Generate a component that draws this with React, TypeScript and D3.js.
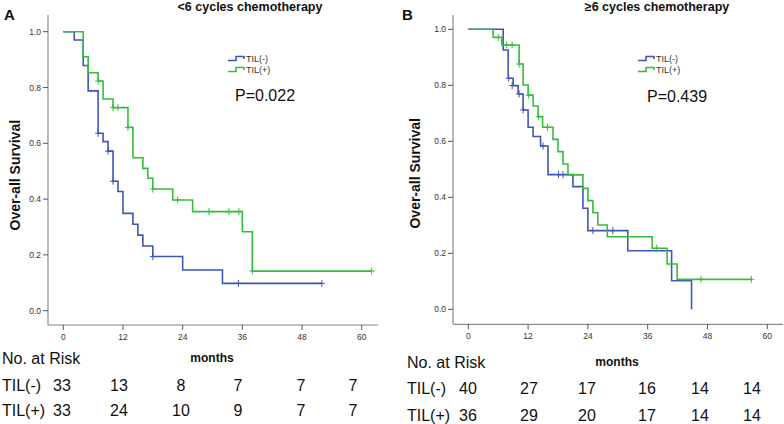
import React from "react";
import * as d3 from "d3";

// ---------- DATA ----------
const xTicks = [0, 12, 24, 36, 48, 60];
const yTicks = [0, 0.2, 0.4, 0.6, 0.8, 1.0];
const groups = ["TIL(-)", "TIL(+)"];

const titleA = "<6 cycles chemotherapy";
const titleB = "≥6 cycles chemotherapy";
const pA = "P=0.022";
const pB = "P=0.439";

// [time, survival] step points
const aNegSteps: [number, number][] = [
  [0, 1], [2.2, 0.970], [4, 0.879], [5, 0.788], [7, 0.636], [8, 0.606], [9, 0.572],
  [10, 0.464], [11, 0.427], [12, 0.349], [14, 0.310], [15, 0.271], [16, 0.232],
  [18, 0.194], [24, 0.146], [32, 0.098], [52, 0.098],
];
const aNegCensor: [number, number][] = [
  [7, 0.636], [9, 0.572], [10, 0.464], [18, 0.194], [35.2, 0.098], [52, 0.098],
];
const aPosSteps: [number, number][] = [
  [0, 1], [4, 0.910], [5, 0.853], [7, 0.823], [8, 0.759], [10, 0.728], [13, 0.657],
  [14, 0.548], [16, 0.510], [17, 0.475], [18, 0.436], [22, 0.397], [26, 0.355],
  [36, 0.283], [38, 0.142], [62, 0.142],
];
const aPosCensor: [number, number][] = [
  [7, 0.823], [10, 0.728], [11, 0.728], [13, 0.657], [18, 0.436], [23, 0.397],
  [29.3, 0.355], [33.3, 0.355], [35.3, 0.355], [38, 0.142], [62, 0.142],
];

const bNegSteps: [number, number][] = [
  [0, 1], [7, 0.926], [8, 0.825], [9, 0.799], [10, 0.769], [11, 0.712], [12, 0.650],
  [13, 0.617], [14.5, 0.583], [16, 0.481], [21, 0.438], [23, 0.361], [24, 0.281],
  [32, 0.209], [40.8, 0.102], [44.8, 0.0],
];
const bNegCensor: [number, number][] = [
  [8.1, 0.825], [8.8, 0.799], [10.2, 0.769], [11, 0.712], [15, 0.583],
  [18.1, 0.481], [19, 0.481], [25, 0.281], [29, 0.281],
];
const bPosSteps: [number, number][] = [
  [0, 1], [5, 0.971], [6.7, 0.944], [10.2, 0.876], [11, 0.801], [12, 0.765],
  [13, 0.726], [14, 0.688], [14.9, 0.650], [17, 0.607], [18, 0.563], [19, 0.519],
  [20, 0.480], [23, 0.432], [24, 0.388], [25, 0.345], [26, 0.301], [27.9, 0.259],
  [36.9, 0.218], [39.9, 0.162], [41.9, 0.107], [56.8, 0.107],
];
const bPosCensor: [number, number][] = [
  [6, 0.971], [7.7, 0.944], [8.8, 0.944], [10.2, 0.876], [12.1, 0.765],
  [14.1, 0.688], [15.9, 0.650], [37.8, 0.218], [46.7, 0.107], [56.8, 0.107],
];

const riskANeg = [33, 13, 8, 7, 7, 7];
const riskAPos = [33, 24, 10, 9, 7, 7];
const riskBNeg = [40, 27, 17, 16, 14, 14];
const riskBPos = [36, 29, 20, 17, 14, 14];

// ---------- STYLE ----------
const BLUE = "#3f56b5";
const GREEN = "#35bd3a";
const AXIS = "#8a8a8a";
const TEXT = "#333";
const FONT = "Liberation Sans, Arial, sans-serif";

type PanelProps = {
  letter: string;
  letterX: number;
  title: string;
  titleX: number;
  pval: string;
  axisX: number;
  yTitleX: number;
  x0: number;
  x60: number;
  axisRight: number;
  yTop: number;
  y0: number;
  y1: number;
  bottom: number;
  legendX: number;
  legendY: number;
  pX: number;
  pY: number;
  neg: [number, number][];
  negC: [number, number][];
  pos: [number, number][];
  posC: [number, number][];
  riskNeg: number[];
  riskPos: number[];
  riskX: number[];
  tableX: number;
  tableY: number[];
  monthsX: number;
};

function Panel(p: PanelProps) {
  const x = d3.scaleLinear().domain([0, 60]).range([p.x0, p.x60]);
  const y = d3.scaleLinear().domain([0, 1]).range([p.y0, p.y1]);
  const line = d3
    .line<[number, number]>()
    .x((d) => x(d[0]))
    .y((d) => y(d[1]))
    .curve(d3.curveStepAfter);

  const censor = (pts: [number, number][], color: string, key: string) =>
    pts.map((d, i) => (
      <path
        key={key + i}
        d={`M${x(d[0])},${y(d[1]) - 3.5}V${y(d[1]) + 3.5}M${x(d[0]) - 3},${y(d[1])}H${x(d[0]) + 3}`}
        stroke={color}
        strokeWidth={1}
        fill="none"
      />
    ));

  const legendSym = (ly: number, color: string) => {
    const lx = p.legendX;
    return (
      <path
        d={`M${lx},${ly + 1.5}H${lx + 8}V${ly - 2.5}H${lx + 16}V${ly}`}
        stroke={color}
        strokeWidth={1.6}
        fill="none"
      />
    );
  };

  return (
    <g fontFamily={FONT}>
      <text x={p.letterX} y={20} fontSize={15} fontWeight="bold" fill="#111">
        {p.letter}
      </text>
      <text x={p.titleX} y={11} fontSize={12.5} fontWeight="bold" fill="#111" textAnchor="middle">
        {p.title}
      </text>
      {/* axes */}
      <line x1={p.axisX} x2={p.axisX} y1={p.yTop} y2={p.bottom} stroke={AXIS} strokeWidth={1.2} />
      <line x1={p.axisX} x2={p.axisRight} y1={p.bottom} y2={p.bottom} stroke={AXIS} strokeWidth={1.2} />
      {yTicks.map((t) => (
        <g key={"y" + t}>
          <line x1={p.axisX - 5} x2={p.axisX} y1={y(t)} y2={y(t)} stroke="#555" strokeWidth={1} />
          <text x={p.axisX - 7} y={y(t) + 3} fontSize={8.5} fill={TEXT} textAnchor="end">
            {t.toFixed(1)}
          </text>
        </g>
      ))}
      {xTicks.map((t) => (
        <g key={"x" + t}>
          <line x1={x(t)} x2={x(t)} y1={p.bottom} y2={p.bottom + 5} stroke="#555" strokeWidth={1} />
          <text x={x(t)} y={p.bottom + 15} fontSize={8.5} fill={TEXT} textAnchor="middle">
            {t}
          </text>
        </g>
      ))}
      <text
        transform={`translate(${p.yTitleX},${(p.y0 + p.y1) / 2 + 4}) rotate(-90)`}
        fontSize={14}
        fontWeight="bold"
        fill="#111"
        textAnchor="middle"
      >
        Over-all Survival
      </text>
      {/* curves */}
      <path d={line(p.neg) || ""} stroke={BLUE} strokeWidth={1.6} fill="none" />
      <path d={line(p.pos) || ""} stroke={GREEN} strokeWidth={1.6} fill="none" />
      {censor(p.negC, BLUE, "nc")}
      {censor(p.posC, GREEN, "pc")}
      {/* legend */}
      {legendSym(p.legendY, BLUE)}
      <text x={p.legendX + 18} y={p.legendY + 3} fontSize={9} fill={TEXT}>
        {groups[0]}
      </text>
      {legendSym(p.legendY + 11, GREEN)}
      <text x={p.legendX + 18} y={p.legendY + 14} fontSize={9} fill={TEXT}>
        {groups[1]}
      </text>
      <text x={p.pX} y={p.pY} fontSize={16} fill="#111">
        {p.pval}
      </text>
      {/* risk table */}
      <text x={p.monthsX} y={p.tableY[0] + 4} fontSize={12} fontWeight="bold" fill="#111" textAnchor="middle">
        months
      </text>
      <text x={p.tableX} y={p.tableY[0] + 6} fontSize={16} fill="#111">
        No. at Risk
      </text>
      <text x={p.tableX} y={p.tableY[1] + 6} fontSize={16} fill="#111">
        {groups[0]}
      </text>
      <text x={p.tableX} y={p.tableY[2] + 6} fontSize={16} fill="#111">
        {groups[1]}
      </text>
      {p.riskNeg.map((v, i) => (
        <text key={"rn" + i} x={p.riskX[i]} y={p.tableY[1] + 6} fontSize={16} fill="#111" textAnchor="middle">
          {v}
        </text>
      ))}
      {p.riskPos.map((v, i) => (
        <text key={"rp" + i} x={p.riskX[i]} y={p.tableY[2] + 6} fontSize={16} fill="#111" textAnchor="middle">
          {v}
        </text>
      ))}
    </g>
  );
}

export default function App() {
  return (
    <svg
      width={784}
      height={424}
      style={{ position: "absolute", left: 0, top: 0, background: "#fff" }}
    >
      <rect width={784} height={424} fill="#fff" />
      <Panel
        letter="A"
        letterX={4}
        title={titleA}
        titleX={250}
        pval={pA}
        axisX={48}
        yTitleX={20}
        x0={63.3}
        x60={361.7}
        axisRight={378}
        yTop={15}
        y0={310.7}
        y1={31.7}
        bottom={325}
        legendX={228}
        legendY={59}
        pX={235}
        pY={101}
        neg={aNegSteps}
        negC={aNegCensor}
        pos={aPosSteps}
        posC={aPosCensor}
        riskNeg={riskANeg}
        riskPos={riskAPos}
        riskX={[62, 119, 181, 238, 301, 353]}
        tableX={2}
        tableY={[358, 385, 410]}
        monthsX={212}
      />
      <Panel
        letter="B"
        letterX={402}
        title={titleB}
        titleX={657}
        pval={pB}
        axisX={453}
        yTitleX={420}
        x0={468.3}
        x60={767.3}
        axisRight={783}
        yTop={15}
        y0={309.3}
        y1={29.3}
        bottom={324.3}
        legendX={638}
        legendY={59}
        pX={647}
        pY={102}
        neg={bNegSteps}
        negC={bNegCensor}
        pos={bPosSteps}
        posC={bPosCensor}
        riskNeg={riskBNeg}
        riskPos={riskBPos}
        riskX={[468, 529, 587, 647, 700, 752]}
        tableX={407}
        tableY={[362, 388, 415]}
        monthsX={617}
      />
    </svg>
  );
}
